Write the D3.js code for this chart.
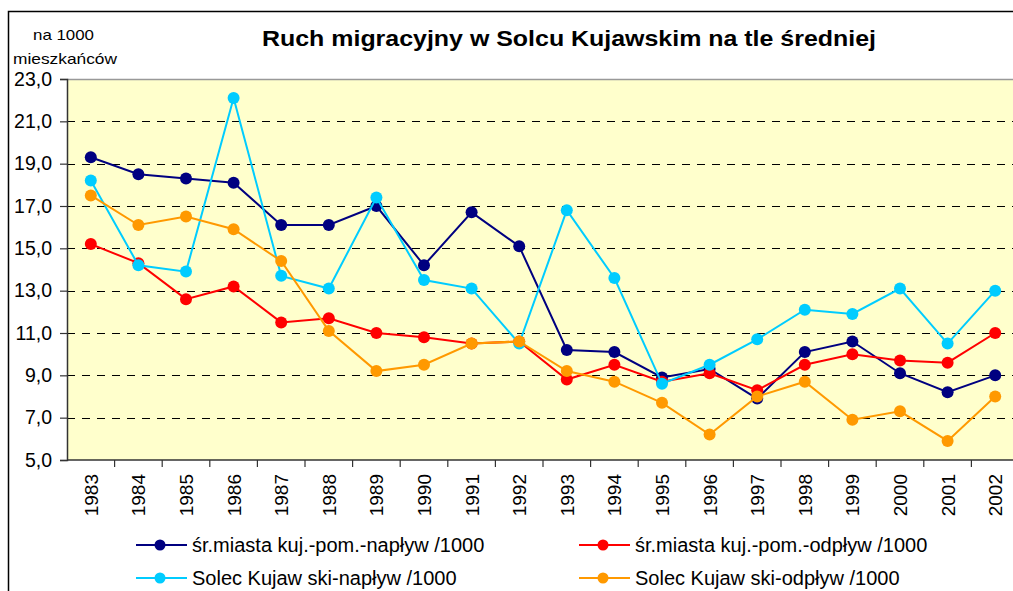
<!DOCTYPE html>
<html>
<head>
<meta charset="utf-8">
<script src="https://cdn.jsdelivr.net/npm/d3@7"></script>
<style>
  body { margin: 0; background: #fff; }
  text { font-family: "Liberation Sans", Arial, sans-serif; fill: #000; }
</style>
</head>
<body>
<div id="chart"></div>
<script>
// Chart data
var years = ["1983","1984","1985","1986","1987","1988","1989","1990","1991","1992",
             "1993","1994","1995","1996","1997","1998","1999","2000","2001","2002"];
var srNaplyw    = [19.3,18.5,18.3,18.1,16.1,16.1,17.0,14.2,16.7,15.1,10.2,10.1,8.9,9.3,7.9,10.1,10.6,9.1,8.2,9.0];
var srOdplyw    = [15.2,14.3,12.6,13.2,11.5,11.7,11.0,10.8,10.5,10.6,8.8,9.5,8.7,9.1,8.3,9.5,10.0,9.7,9.6,11.0];
var solecNaplyw = [18.2,14.2,13.9,22.1,13.7,13.1,17.4,13.5,13.1,10.5,16.8,13.6,8.6,9.5,10.7,12.1,11.9,13.1,10.5,13.0];
var solecOdplyw = [17.5,16.1,16.5,15.9,14.4,11.1,9.2,9.5,10.5,10.6,9.2,8.7,7.7,6.2,8.0,8.7,6.9,7.3,5.9,8.0];
var seriesNames = ["śr.miasta kuj.-pom.-napływ /1000", "śr.miasta kuj.-pom.-odpływ /1000",
                   "Solec Kujaw ski-napływ /1000", "Solec Kujaw ski-odpływ /1000"];
var yTicks = [5,7,9,11,13,15,17,19,21,23];

var colors = ["#000080", "#FF0000", "#00CCFF", "#FF9900"];
var allSeries = [srNaplyw, srOdplyw, solecNaplyw, solecOdplyw];

var svgWidth = 1013;
var svgHeight = 591;

var svg = d3.select("#chart")
  .append("svg")
  .attr("width", svgWidth)
  .attr("height", svgHeight);

// outer chart border
svg.append("rect")
  .attr("x", 8.5).attr("y", 11.5)
  .attr("width", 1100).attr("height", 700)
  .attr("fill", "#fff")
  .attr("stroke", "#000")
  .attr("stroke-width", 1.5);

// plot area
var plot = {left: 67, top: 79, right: 1019, bottom: 460};

var x = d3.scaleBand()
  .domain(years)
  .range([plot.left, plot.right])
  .padding(0);

var y = d3.scaleLinear()
  .domain([5, 23])
  .range([plot.bottom, plot.top]);

svg.append("rect")
  .attr("x", plot.left).attr("y", plot.top)
  .attr("width", plot.right - plot.left)
  .attr("height", plot.bottom - plot.top)
  .attr("fill", "#FFFFCC");

// dashed gridlines
svg.append("g")
  .selectAll("line")
  .data(yTicks.filter(d => d > 5 && d < 23))
  .enter()
  .append("line")
  .attr("x1", plot.left).attr("x2", plot.right)
  .attr("y1", d => Math.round(y(d)) + 0.5)
  .attr("y2", d => Math.round(y(d)) + 0.5)
  .attr("stroke", "#000")
  .attr("stroke-width", 1)
  .attr("stroke-dasharray", "8,7");

// top border of plot
svg.append("line")
  .attr("x1", plot.left).attr("x2", plot.right)
  .attr("y1", plot.top + 0.5).attr("y2", plot.top + 0.5)
  .attr("stroke", "#999").attr("stroke-width", 1.5);

// left axis
var leftAxis = d3.axisLeft(y)
  .tickValues(yTicks)
  .tickSize(7)
  .tickPadding(8)
  .tickFormat(d => d3.format(".1f")(d).replace(".", ","));

var gy = svg.append("g")
  .attr("transform", `translate(${plot.left},0)`)
  .call(leftAxis);
gy.select(".domain").attr("stroke", "#333").attr("stroke-width", 1.5);
gy.selectAll(".tick line").attr("stroke", "#333").attr("stroke-width", 1.2);
gy.selectAll(".tick text")
  .style("font-family", "Liberation Sans, Arial, sans-serif")
  .style("font-size", "19.5px")
  .attr("x", -15);

// bottom axis: ticks on category boundaries
var gx = svg.append("g")
  .attr("transform", `translate(0,${plot.bottom})`);
gx.append("line")
  .attr("x1", plot.left).attr("x2", plot.right)
  .attr("y1", 0).attr("y2", 0)
  .attr("stroke", "#333").attr("stroke-width", 1.5);
gx.selectAll(".btick")
  .data(years)
  .enter()
  .append("line")
  .attr("class", "btick")
  .attr("x1", d => x(d) + x.bandwidth())
  .attr("x2", d => x(d) + x.bandwidth())
  .attr("y1", 0).attr("y2", 7)
  .attr("stroke", "#333").attr("stroke-width", 1.2);
gx.selectAll(".xlab")
  .data(years)
  .enter()
  .append("text")
  .attr("class", "xlab")
  .attr("transform", d => `translate(${x(d) + x.bandwidth() / 2 + 7},14) rotate(-90)`)
  .attr("text-anchor", "end")
  .style("font-size", "19px")
  .text(d => d);

// series lines and markers
var line = d3.line()
  .x((d, i) => x(years[i]) + x.bandwidth() / 2)
  .y(d => y(d));

allSeries.forEach(function (data, s) {
  var g = svg.append("g");
  g.append("path")
    .datum(data)
    .attr("d", line)
    .attr("fill", "none")
    .attr("stroke", colors[s])
    .attr("stroke-width", 2);
  g.selectAll("circle")
    .data(data)
    .enter()
    .append("circle")
    .attr("cx", (d, i) => x(years[i]) + x.bandwidth() / 2)
    .attr("cy", d => y(d))
    .attr("r", 6)
    .attr("fill", colors[s]);
});

// title and unit label
svg.append("text")
  .attr("x", 262).attr("y", 46)
  .attr("textLength", 614)
  .attr("lengthAdjust", "spacingAndGlyphs")
  .style("font-size", "22px")
  .style("font-weight", "bold")
  .text("Ruch migracyjny w Solcu Kujawskim na tle średniej");

svg.append("text")
  .attr("x", 33).attr("y", 40)
  .attr("textLength", 61)
  .attr("lengthAdjust", "spacingAndGlyphs")
  .style("font-size", "15px")
  .text("na 1000");
svg.append("text")
  .attr("x", 13).attr("y", 64)
  .attr("textLength", 104)
  .attr("lengthAdjust", "spacingAndGlyphs")
  .style("font-size", "15px")
  .text("mieszkańców");

// legend
var legendPos = [[136, 545], [579, 545], [136, 578], [579, 578]];
var legend = svg.append("g");
seriesNames.forEach(function (name, s) {
  var p = legendPos[s];
  var g = legend.append("g").attr("transform", `translate(${p[0]},${p[1]})`);
  g.append("line")
    .attr("x1", 0).attr("x2", 51)
    .attr("y1", 0).attr("y2", 0)
    .attr("stroke", colors[s]).attr("stroke-width", 2);
  g.append("circle")
    .attr("cx", 24).attr("cy", 0).attr("r", 5.5)
    .attr("fill", colors[s]);
  g.append("text")
    .attr("x", 56).attr("y", 7)
    .style("font-size", "20px")
    .text(name);
});
</script>
</body>
</html>
